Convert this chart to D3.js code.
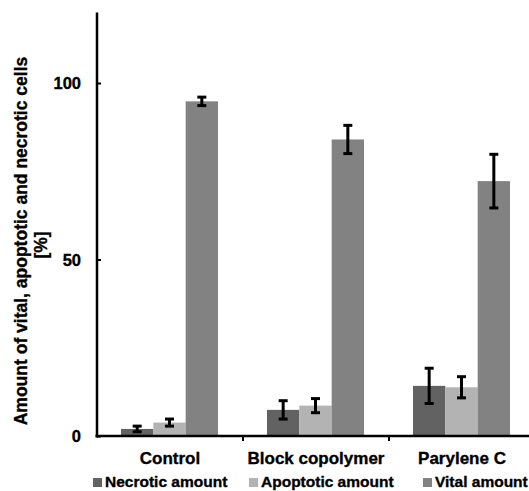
<!DOCTYPE html>
<html>
<head>
<meta charset="utf-8">
<script src="https://cdn.jsdelivr.net/npm/d3@7"></script>
<style>
  body { margin: 0; background: #fff; }
  svg text { font-family: "Liberation Sans", Arial, sans-serif; font-weight: bold; fill: #000; stroke: #000; stroke-width: 0.35px; }
</style>
</head>
<body>
<div id="holder"></div>
<script>
const categories = ['Control', 'Block copolymer', 'Parylene C'];
const seriesNames = ['Necrotic amount', 'Apoptotic amount', 'Vital amount'];
const necrotic = [2.0, 7.4, 14.2];
const necroticErr = [0.8, 2.6, 5.0];
const apoptotic = [3.8, 8.6, 13.8];
const apoptoticErr = [1.0, 2.0, 3.0];
const vital = [94.8, 84.0, 72.2];
const vitalErr = [1.2, 4.0, 7.6];
const yTicks = [0, 50, 100];

const colors = ['#626262', '#b3b3b3', '#828282'];

const w = 529;
const h = 491;
const left = 97;
const base = 436;

const values = [necrotic, apoptotic, vital];
const errors = [necroticErr, apoptoticErr, vitalErr];

const rows = [];
seriesNames.forEach((s, si) => {
    categories.forEach((c, ci) => {
        rows.push({ cat: c, series: s, si: si, v: values[si][ci], e: errors[si][ci] });
    });
});

const svg = d3.select('#holder')
    .append('svg')
    .attr('width', w)
    .attr('height', h);

const yScale = d3.scaleLinear()
    .domain([0, 120])
    .range([base, 12.4]);

const x0 = d3.scaleBand()
    .domain(categories)
    .range([left, 535]);

const x1 = d3.scaleBand()
    .domain(seriesNames)
    .range([24, 121]);

// bars
svg.selectAll('rect.bar')
    .data(rows)
    .enter()
    .append('rect')
    .attr('class', 'bar')
    .attr('x', d => x0(d.cat) + x1(d.series))
    .attr('y', d => yScale(d.v))
    .attr('width', x1.bandwidth())
    .attr('height', d => base - yScale(d.v))
    .attr('fill', d => colors[d.si]);

// error bars
const eb = svg.selectAll('g.err')
    .data(rows)
    .enter()
    .append('g')
    .attr('class', 'err')
    .attr('stroke', '#000')
    .attr('stroke-width', 3);

const cx = d => x0(d.cat) + x1(d.series) + x1.bandwidth() / 2;

eb.append('line')
    .attr('x1', cx).attr('x2', cx)
    .attr('y1', d => yScale(d.v + d.e))
    .attr('y2', d => yScale(d.v - d.e));
eb.append('line')
    .attr('x1', d => cx(d) - 4.5).attr('x2', d => cx(d) + 4.5)
    .attr('y1', d => yScale(d.v + d.e))
    .attr('y2', d => yScale(d.v + d.e));
eb.append('line')
    .attr('x1', d => cx(d) - 4.5).attr('x2', d => cx(d) + 4.5)
    .attr('y1', d => yScale(d.v - d.e))
    .attr('y2', d => yScale(d.v - d.e));

// y axis
const yAxis = svg.append('g')
    .attr('transform', 'translate(' + left + ',0)')
    .call(d3.axisRight(yScale).tickValues(yTicks).tickSize(4).tickFormat(''));
yAxis.select('.domain').remove();
yAxis.selectAll('line').attr('stroke', '#000').attr('stroke-width', 2);
svg.append('line')
    .attr('x1', left).attr('x2', left)
    .attr('y1', yScale(120)).attr('y2', base + 1.5)
    .attr('stroke', '#000').attr('stroke-width', 2.5);

svg.selectAll('text.ytick')
    .data(yTicks)
    .enter()
    .append('text')
    .attr('class', 'ytick')
    .attr('x', 81)
    .attr('y', d => yScale(d) + 6)
    .attr('text-anchor', 'end')
    .style('font-size', '16.5px')
    .text(d => d);

// x axis
svg.append('line')
    .attr('x1', left - 1.5).attr('x2', w)
    .attr('y1', base).attr('y2', base)
    .attr('stroke', '#000').attr('stroke-width', 2.5);

svg.selectAll('line.xsep')
    .data(categories.slice(1))
    .enter()
    .append('line')
    .attr('class', 'xsep')
    .attr('x1', d => x0(d)).attr('x2', d => x0(d))
    .attr('y1', base).attr('y2', base + 5)
    .attr('stroke', '#000').attr('stroke-width', 2);

svg.selectAll('text.xlab')
    .data(categories)
    .enter()
    .append('text')
    .attr('class', 'xlab')
    .attr('x', d => x0(d) + 73)
    .attr('y', 464)
    .attr('text-anchor', 'middle')
    .style('font-size', '17px')
    .text(d => d);

// y title
const title = svg.append('text')
    .attr('transform', 'translate(27,241) rotate(-90)')
    .attr('text-anchor', 'middle')
    .style('font-size', '17.5px');
title.append('tspan').attr('x', 0).attr('y', 0).text('Amount of vital, apoptotic and necrotic cells');
title.append('tspan').attr('x', -4).attr('y', 20).text('[%]');

// legend
const legendX = [93, 249, 423];
const legend = svg.selectAll('g.legend')
    .data(seriesNames)
    .enter()
    .append('g')
    .attr('class', 'legend')
    .attr('transform', (d, i) => 'translate(' + legendX[i] + ',478)');
legend.append('rect')
    .attr('width', 9).attr('height', 9)
    .attr('fill', (d, i) => colors[i]);
legend.append('text')
    .attr('x', 12)
    .attr('y', 9)
    .style('font-size', '15.5px')
    .text(d => d);
</script>
</body>
</html>
